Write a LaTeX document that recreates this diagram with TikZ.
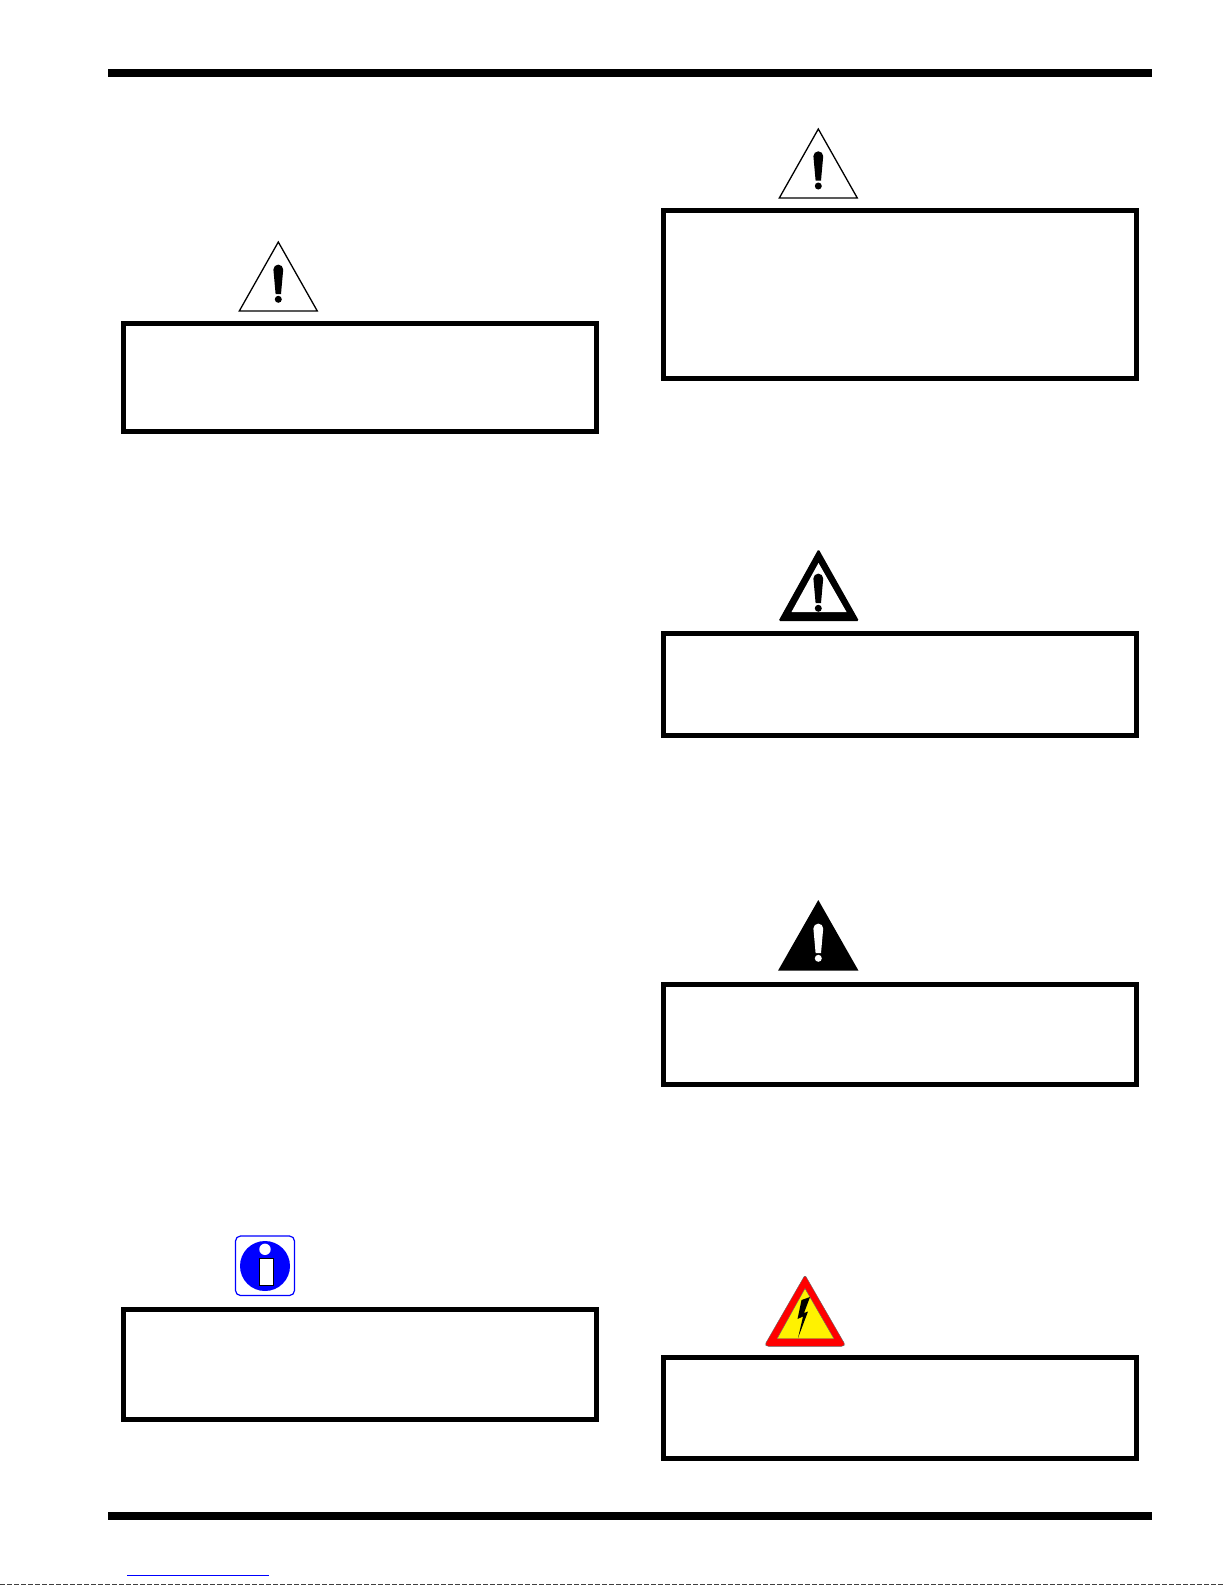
\documentclass[tikz,border=0pt]{standalone}
\usepackage{tikz}
\usepackage{xcolor}
\definecolor{infoblue}{RGB}{0,0,255}
\tikzset{
  rulebar/.style={line width=8pt},
  warnbox/.style={draw=black, line width=4.8pt},
  warnline/.style={draw=black, line width=1.3pt, line join=miter},
}

\begin{document}
\begin{tikzpicture}[x=1pt,y=-1pt]
	\useasboundingbox (0,0) rectangle (1225,1585);
	\fill [white] (0,0) rectangle (1225,1585);
	% линии
	\draw [rulebar] (108,73) -- (1152,73);
	\draw [rulebar] (108,1516) -- (1152,1516);
	\draw [infoblue, line width=1pt] (127,1575.4) -- (269,1575.4);
	\draw [black!75, line width=1pt, dash pattern=on 5pt off 2pt] (0,1584.5) -- (1225,1584.5);
	% рамки
	\draw [warnbox] (123.4,323.4) rectangle (596.6,431.6);
	\draw [warnbox] (663.4,210.4) rectangle (1136.6,378.4);
	\draw [warnbox] (663.4,633.4) rectangle (1136.6,735.6);
	\draw [warnbox] (663.4,984.4) rectangle (1136.6,1084.6);
	\draw [warnbox] (123.4,1309.4) rectangle (596.6,1419.6);
	\draw [warnbox] (663.4,1357.4) rectangle (1136.6,1458.6);
	% треугольники
	\draw [warnline] (278.3,242) -- (239.3,311) -- (317.3,311) -- cycle;
	\draw [warnline] (818.3,129) -- (779.3,198) -- (857.3,198) -- cycle;
	\fill [rounded corners=1.5pt] (818.5,549) -- (778.5,621) -- (859,621) -- cycle;
	\fill [white] (818.5,563) -- (791.5,612) -- (846.5,612) -- cycle;
	\fill (818.3,900) -- (778,970.7) -- (858.5,970.7) -- cycle;
	% восклицательные знаки
	\foreach \px/\py in {278.3/241, 818.3/127.7, 818.3/550} {
		\fill (\px-4.9,\py+28.5) arc (180:360:4.9) -- (\px+2.7,\py+53) -- (\px-2.7,\py+53) -- cycle;
		\fill (\px,\py+58.3) circle (3.5);
	}
	\fill [white] (818.3-4.9,928.5) arc (180:360:4.9) -- (818.3+2.7,953) -- (818.3-2.7,953) -- cycle;
	\fill [white] (818.3,958.3) circle (3.5);
	% информация
	\draw [infoblue, line width=1.2pt, rounded corners=5pt] (235.5,1236) rectangle (294.5,1295.5);
	\fill [infoblue] (265,1266) circle (25);
	\fill [white] (265,1249.3) circle (5.7);
	\draw [black, line width=0.8pt, fill=white] (259,1258.5) rectangle (273,1285);
	% молния
	\fill [red, draw=black!60, line width=0.4pt, rounded corners=1.5pt] (805,1275) -- (765,1344.5) -- (767,1346.3) -- (843,1346.3) -- (845,1344.5) -- cycle;
	\fill [yellow, draw=black!60, line width=0.4pt] (805,1288.5) -- (777.2,1338.5) -- (833.8,1338.5) -- cycle;
	\fill (810,1297) -- (801.5,1300) -- (797.5,1319) -- (803,1316.5) -- (798,1338) -- (808,1311.5) -- (804,1313) -- cycle;
\end{tikzpicture}
\end{document}
